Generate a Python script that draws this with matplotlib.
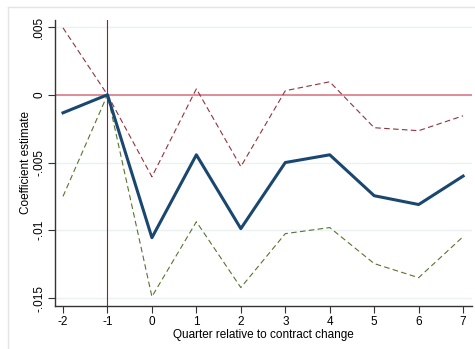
import matplotlib
matplotlib.use("Agg")
import matplotlib.pyplot as plt
from matplotlib.lines import Line2D

plt.rcParams['font.family'] = ['Liberation Sans', 'DejaVu Sans']
plt.rcParams['axes.unicode_minus'] = False

quarters = [-2, -1, 0, 1, 2, 3, 4, 5, 6, 7]
coef = [-0.00133, 0.0, -0.01055, -0.00443, -0.00988, -0.0050, -0.00443, -0.00745, -0.0081, -0.0060]
upper = [0.00494, 0.0, -0.00605, 0.00044, -0.0053, 0.0003, 0.00096, -0.00243, -0.00265, -0.00155]
lower = [-0.0075, 0.0, -0.0149, -0.00937, -0.01423, -0.01025, -0.0098, -0.01246, -0.0135, -0.01047]

yticks = [0.005, 0, -0.005, -0.01, -0.015]
ytick_labels = [".005", "0", "-.005", "-.01", "-.015"]

fig = plt.figure(figsize=(4.75, 3.49), dpi=100)
ax = fig.add_axes([55/475, 43/349, 417/475, 286/349])

# outer frame (stata style)
fig.add_artist(Line2D([8/475, 1], [342/349, 342/349], transform=fig.transFigure, color="#e4e4e4", lw=1))
fig.add_artist(Line2D([8/475, 8/475], [0, 342/349], transform=fig.transFigure, color="#e4e4e4", lw=1))

for y in yticks:
    ax.axhline(y, color="#eaf2f3", lw=1, zorder=0)

ax.axhline(0, color="#d9707f", lw=1.1, zorder=1)
ax.axvline(-1, color="#b5102a", lw=0.8, zorder=1)

ax.plot(quarters, upper, color="#90353b", lw=0.8, dashes=(5, 3), zorder=2)
ax.plot(quarters, lower, color="#55752f", lw=0.8, dashes=(5, 3), zorder=2)
ax.plot(quarters, coef, color="#1a476f", lw=2.2, zorder=3)

ax.set_xlim(-2.18, 7.2)
ax.set_ylim(-0.01559, 0.00552)
ax.set_xticks(quarters)
ax.set_yticks(yticks)
ax.set_yticklabels(ytick_labels, rotation=90, va="center")
ax.tick_params(labelsize=8.5, length=5, width=0.8, color="#333333", pad=2)

for s in ["top", "right"]:
    ax.spines[s].set_visible(False)
for s in ["left", "bottom"]:
    ax.spines[s].set_color("#333333")
    ax.spines[s].set_linewidth(1)

ax.set_xlabel("Quarter relative to contract change", fontsize=8.5, labelpad=1)
ax.set_ylabel("Coefficient estimate", fontsize=8.5)
ax.yaxis.set_label_coords(-23/417, 0.5)

fig.savefig("out.png", dpi=100)
